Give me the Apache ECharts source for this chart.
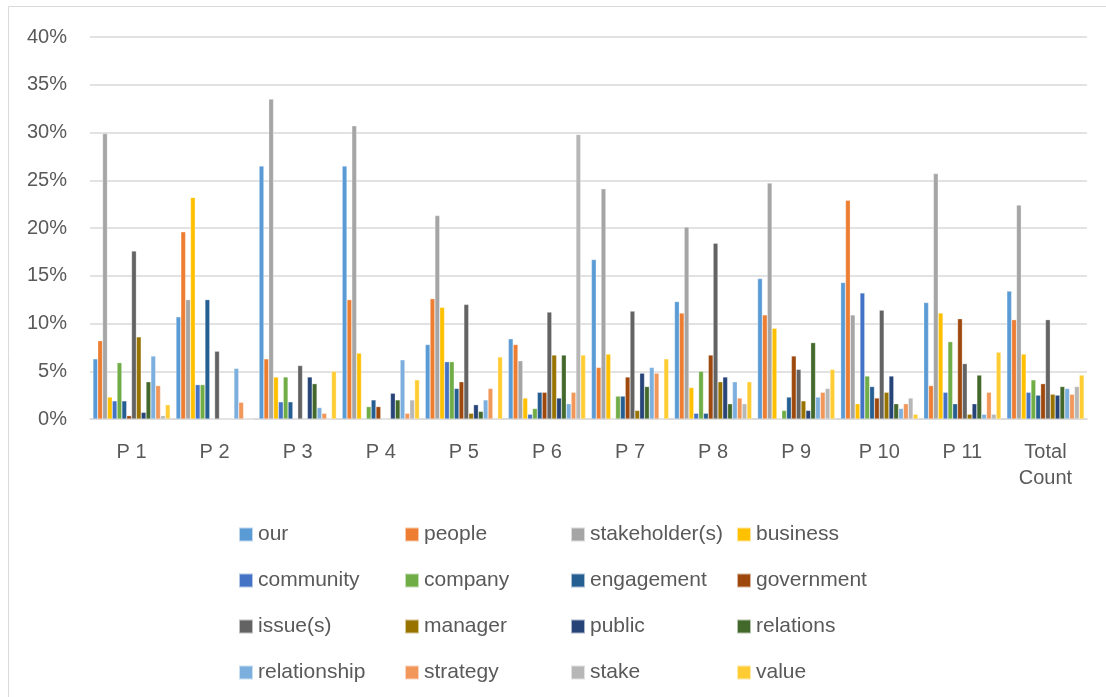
<!DOCTYPE html>
<html>
<head>
<meta charset="utf-8">
<script src="https://cdn.jsdelivr.net/npm/echarts@6/dist/echarts.min.js"></script>
<style>
  html, body { margin: 0; padding: 0; background: #fff; }
  #container { width: 1106px; height: 697px; }
</style>
</head>
<body>
<div id="container"></div>
<script>
var dom = document.getElementById('container');
var myChart = echarts.init(dom, null, { renderer: 'canvas' });

// categories on the x axis
const categories = ['P 1', 'P 2', 'P 3', 'P 4', 'P 5', 'P 6', 'P 7', 'P 8', 'P 9', 'P 10', 'P 11', 'Total\nCount'];

// values in percent, one entry per category
const our          = [6.3, 10.7, 26.5, 26.5, 7.8, 8.4, 16.7, 12.3, 14.7, 14.3, 12.2, 13.4];
const people       = [8.2, 19.6, 6.3, 12.5, 12.6, 7.8, 5.4, 11.1, 10.9, 22.9, 3.5, 10.4];
const stakeholders = [29.9, 12.5, 33.5, 30.7, 21.3, 6.1, 24.1, 20.1, 24.7, 10.9, 25.7, 22.4];
const business     = [2.3, 23.2, 4.4, 6.9, 11.7, 2.2, 6.8, 3.3, 9.5, 1.6, 11.1, 6.8];
const community    = [1.9, 3.6, 1.8, 0, 6.0, 0.5, 0, 0.6, 0, 13.2, 2.8, 2.8];
const company      = [5.9, 3.6, 4.4, 1.3, 6.0, 1.1, 2.4, 5.0, 0.9, 4.5, 8.1, 4.1];
const engagement   = [1.9, 12.5, 1.8, 2.0, 3.2, 2.8, 2.4, 0.6, 2.3, 3.4, 1.6, 2.5];
const government   = [0.35, 0, 0, 1.3, 3.9, 2.8, 4.4, 6.7, 6.6, 2.2, 10.5, 3.7];
const issues       = [17.6, 7.1, 5.6, 0, 12.0, 11.2, 11.3, 18.4, 5.2, 11.4, 5.8, 10.4];
const manager      = [8.6, 0, 0, 0, 0.6, 6.7, 0.9, 3.9, 1.9, 2.8, 0.5, 2.6];
const publicArr    = [0.7, 0, 4.4, 2.7, 1.5, 2.2, 4.8, 4.4, 0.9, 4.5, 1.6, 2.5];
const relations    = [3.9, 0, 3.7, 2.0, 0.8, 6.7, 3.4, 1.6, 8.0, 1.6, 4.6, 3.4];
const relationship = [6.6, 5.3, 1.2, 6.2, 2.0, 1.6, 5.4, 3.9, 2.3, 1.1, 0.5, 3.2];
const strategy     = [3.5, 1.75, 0.6, 0.6, 3.2, 2.8, 4.8, 2.2, 2.8, 1.6, 2.8, 2.6];
const stake        = [0.35, 0, 0, 2.0, 0, 29.8, 0, 1.6, 3.2, 2.2, 0.5, 3.4];
const value        = [1.5, 0, 5.0, 4.1, 6.5, 6.7, 6.3, 3.9, 5.2, 0.5, 7.0, 4.6];

const seriesNames = ['our', 'people', 'stakeholder(s)', 'business', 'community', 'company', 'engagement', 'government',
    'issue(s)', 'manager', 'public', 'relations', 'relationship', 'strategy', 'stake', 'value'];
const seriesData = [our, people, stakeholders, business, community, company, engagement, government,
    issues, manager, publicArr, relations, relationship, strategy, stake, value];
const colors = ['#5B9BD5', '#ED7D31', '#A5A5A5', '#FFC000', '#4472C4', '#70AD47', '#255E91', '#9E480E',
    '#636363', '#997300', '#264478', '#43682B', '#7CAFDD', '#F1975A', '#B7B7B7', '#FFCD33'];

const font = 'Liberation Sans';
const textColor = '#595959';

let series = [];
for (let i = 0; i < seriesNames.length; i++) {
    series.push({
        name: seriesNames[i],
        type: 'bar',
        data: seriesData[i],
        barGap: '0%',
        barCategoryGap: '7%',
        itemStyle: { color: colors[i], borderColor: 'rgba(255,255,255,0.6)', borderWidth: 0.5 }
    });
}

// legend laid out as 4 vertical columns
const legendCols = [[], [], [], []];
for (let i = 0; i < seriesNames.length; i++) {
    legendCols[i % 4].push(seriesNames[i]);
}
const colLeft = [238, 404, 570, 736];
let legends = [];
for (let c = 0; c < 4; c++) {
    legends.push({
        orient: 'vertical',
        left: colLeft[c],
        top: 524,
        data: legendCols[c],
        icon: 'rect',
        itemWidth: 14,
        itemHeight: 14,
        itemGap: 25,
        padding: 0,
        textStyle: { fontFamily: font, fontSize: 21, color: textColor, lineHeight: 20 }
    });
}

var option = {
    animation: false,
    color: colors,
    textStyle: { fontFamily: font },
    legend: legends,
    graphic: [{
        type: 'rect',
        shape: { x: 8.5, y: 6.5, width: 1300, height: 900 },
        style: { fill: 'none', stroke: '#d9d9d9', lineWidth: 1 },
        silent: true
    }],
    grid: { left: 90, right: 19, top: 37, bottom: 278 },
    xAxis: {
        type: 'category',
        data: categories,
        axisLine: { lineStyle: { color: '#d9d9d9', width: 1.5 } },
        axisTick: { show: false },
        axisLabel: { fontFamily: font, fontSize: 20, color: textColor, margin: 20, lineHeight: 26 }
    },
    yAxis: {
        type: 'value',
        min: 0,
        max: 40,
        interval: 5,
        axisLine: { show: false },
        axisTick: { show: false },
        splitLine: { lineStyle: { color: '#d9d9d9', width: 1.5 } },
        axisLabel: {
            fontFamily: font, fontSize: 20, color: textColor, margin: 23,
            formatter: (v) => v + '%'
        }
    },
    series: series
};

myChart.setOption(option);
window.addEventListener('resize', myChart.resize);
</script>
</body>
</html>
